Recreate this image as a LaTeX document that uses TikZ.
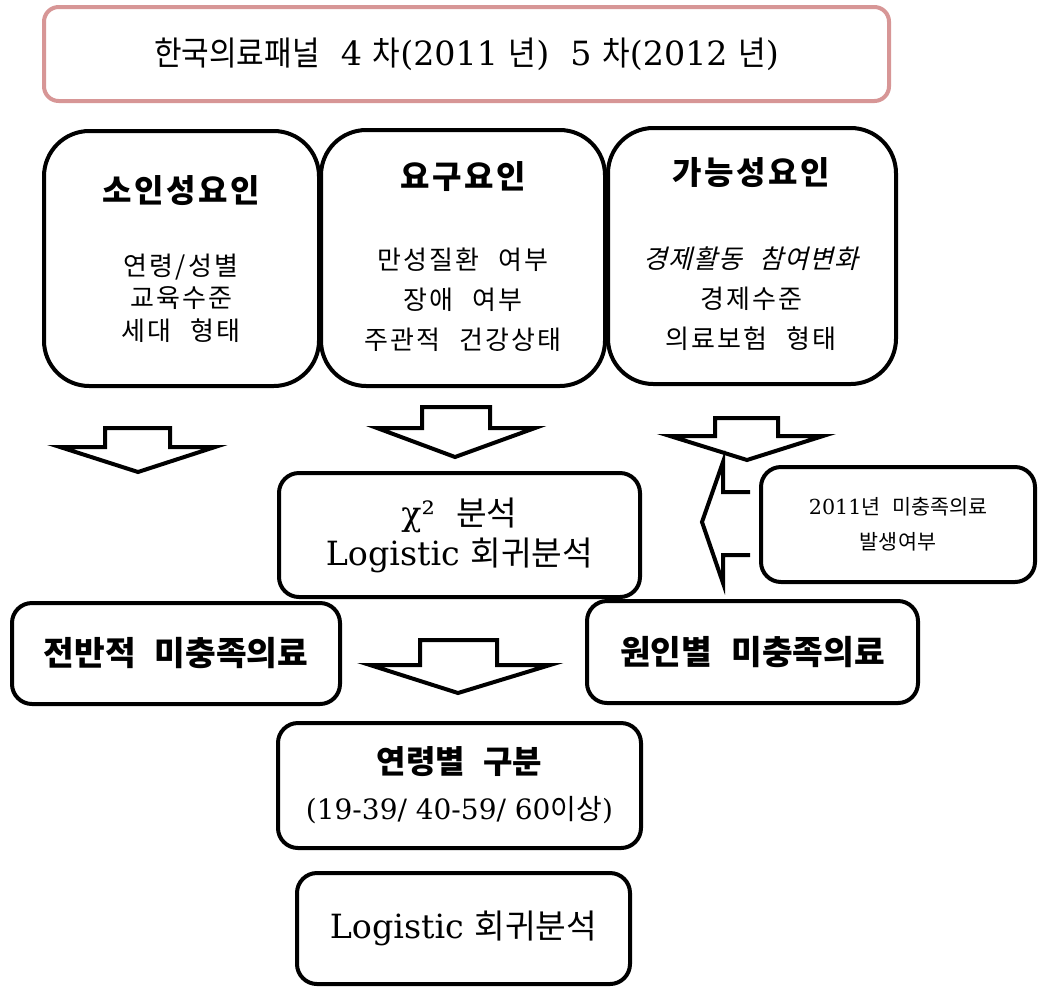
\documentclass[tikz,border=0pt]{standalone}
\usepackage{fontspec}
\setmainfont{DejaVu Serif}
\newfontfamily\kr[WordSpace=2.5]{Noto Sans CJK KR}
\newfontfamily\krT[WordSpace=2.5,FakeStretch=0.9]{Noto Sans CJK KR}
\newfontfamily\krL[WordSpace=2.5,LetterSpace=8]{Noto Sans CJK KR}
\newfontfamily\krI[WordSpace=2.5,LetterSpace=4,FakeSlant=0.25]{Noto Sans CJK KR}
\definecolor{titlepink}{RGB}{215,150,150}
\tikzset{
  box/.style={draw, line width=3pt, fill=white, rounded corners=15pt, inner sep=0pt},
  bigbox/.style={box, rounded corners=34pt},
  topbox/.style={box, draw=titlepink, rounded corners=11pt},
  blockarrow/.style={draw, line width=3pt, fill=white, line join=miter, miter limit=20},
  hd/.style={inner sep=0pt, font=\krL\bfseries\fontsize{24pt}{28pt}\selectfont},
  body/.style={inner sep=0pt, align=center, font=\krL\fontsize{19.5pt}{30pt}\selectfont},
  bodyA/.style={body, font=\krL\fontsize{19.5pt}{24.5pt}\selectfont},
}
\begin{document}
\begin{tikzpicture}[x=0.75pt,y=-0.75pt]
\useasboundingbox (0,0) rectangle (1038,986);
% title
\node[topbox, minimum width=845*0.75pt, minimum height=94*0.75pt,
  font=\fontsize{25pt}{29pt}\selectfont] (top) at (466.5,54)
  {{\krT 한국의료패널}\ \ 4 {\krT 차}(2011 {\krT 년})\ \ 5 {\krT 차}(2012 {\krT 년})};
% three factor boxes
\node[bigbox, minimum width=275*0.75pt, minimum height=255*0.75pt] (b1) at (181.5,258.5) {};
\node[bigbox, minimum width=284*0.75pt, minimum height=256*0.75pt] (b2) at (463,258) {};
\node[bigbox, minimum width=288*0.75pt, minimum height=256*0.75pt] (b3) at (752,256) {};
\node[hd] (h1) at (181,191) {소인성요인};
\node[hd] (h2) at (463,177) {요구요인};
\node[hd] (h3) at (751,173) {가능성요인};
\node[bodyA] (t1) at (181,298) {연령/성별\\교육수준\\세대 형태};
\node[body] (t2) at (463,300) {만성질환 여부\\장애 여부\\주관적 건강상태};
\node[body] (t3) at (751,299) {{\krI 경제활동 참여변화}\\경제수준\\의료보험 형태};
% block arrows below the factor boxes
\draw[blockarrow] (105,428) -- (170,428) -- (170,447) -- (215,447) -- (138,472) -- (60,447) -- (105,447) -- cycle;
\draw[blockarrow] (422,407) -- (490,407) -- (490,428) -- (535,428) -- (455,457) -- (377,428) -- (422,428) -- cycle;
\draw[blockarrow] (715,418) -- (778,418) -- (778,436) -- (823,436) -- (747,460) -- (670,436) -- (715,436) -- cycle;
% left-pointing arrow from the side box
\draw[blockarrow] (750,492) -- (723,492) -- (723,462) -- (702,522) -- (723,583) -- (723,555) -- (750,555);
% side box
\node[box, minimum width=274*0.75pt, minimum height=115*0.75pt, align=center,
  font=\fontsize{15.5pt}{26pt}\selectfont] (side) at (898,524.5)
  {2011{\kr 년 미충족의료}\\{\kr 발생여부}};
% analysis box
\node[box, minimum width=361*0.75pt, minimum height=124*0.75pt, align=center,
  font=\fontsize{25pt}{30pt}\selectfont] (mid) at (459.5,535)
  {χ²\ \ {\kr 분석}\\Logistic\ {\kr 회귀분석}};
% outcome boxes
\node[box, minimum width=328*0.75pt, minimum height=101*0.75pt,
  font=\kr\bfseries\fontsize{25pt}{29pt}\selectfont] (all) at (176,653.5) {전반적 미충족의료};
\node[box, minimum width=331*0.75pt, minimum height=102*0.75pt,
  font=\kr\bfseries\fontsize{25pt}{29pt}\selectfont] (cause) at (752.5,652) {원인별 미충족의료};
% arrow to age box
\draw[blockarrow] (420,640) -- (497,640) -- (497,665) -- (550,665) -- (458,693) -- (370,665) -- (420,665) -- cycle;
% age box
\node[box, minimum width=363*0.75pt, minimum height=125*0.75pt, align=center,
  font=\fontsize{21pt}{34.5pt}\selectfont] (age) at (459.5,785.5)
  {{\kr\bfseries\fontsize{24pt}{34.5pt}\selectfont 연령별 구분}\\(19-39/ 40-59/ 60{\kr 이상})};
% final box
\node[box, minimum width=333*0.75pt, minimum height=111*0.75pt,
  font=\fontsize{25pt}{29pt}\selectfont] (logit) at (463.5,928.5) {Logistic\ {\kr 회귀분석}};
\end{tikzpicture}
\end{document}
